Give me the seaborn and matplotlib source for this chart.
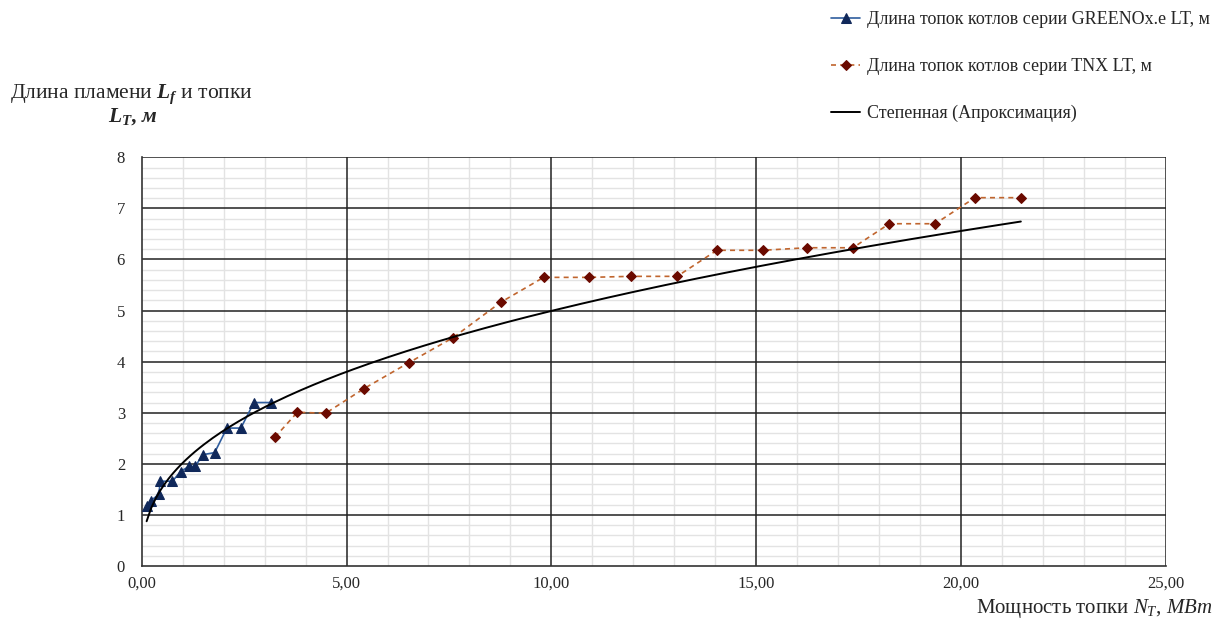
import matplotlib
matplotlib.use("Agg")
import matplotlib.pyplot as plt
import numpy as np
import pandas as pd
import seaborn as sns
from matplotlib.ticker import FuncFormatter, MultipleLocator

# boilers GREENOx.e LT: power (MW) and furnace length (m)
greenox_power = [0.12, 0.22, 0.42, 0.45, 0.75, 0.95, 1.15, 1.30, 1.50, 1.78, 2.08, 2.42, 2.74, 3.15]
greenox_length = [1.17, 1.28, 1.40, 1.66, 1.66, 1.85, 1.95, 1.95, 2.18, 2.22, 2.70, 2.70, 3.20, 3.20]

# boilers TNX LT
tnx_power = [3.25, 3.80, 4.49, 5.42, 6.52, 7.60, 8.76, 9.81, 10.93, 11.94, 13.07,
             14.04, 15.16, 16.24, 17.36, 18.25, 19.37, 20.34, 21.46]
tnx_length = [2.52, 3.01, 2.99, 3.47, 3.98, 4.47, 5.16, 5.65, 5.65, 5.67, 5.67,
              6.18, 6.18, 6.23, 6.23, 6.70, 6.70, 7.21, 7.21]

label_greenox = "Длина топок котлов серии GREENOx.e LT, м"
label_tnx = "Длина топок котлов серии TNX LT, м"
label_fit = "Степенная (Апроксимация)"

sns.set_style("white")
plt.rcParams["font.family"] = ["Liberation Serif", "DejaVu Serif"]
plt.rcParams["mathtext.fontset"] = "custom"
plt.rcParams["mathtext.rm"] = "Liberation Serif"
plt.rcParams["mathtext.it"] = "Liberation Serif:italic"
plt.rcParams["mathtext.bf"] = "Liberation Serif:bold"
plt.rcParams["mathtext.bfit"] = "Liberation Serif:italic:bold"

# power-law trendline fitted on both series (like the spreadsheet trendline)
all_x = np.array(greenox_power + tnx_power)
all_y = np.array(greenox_length + tnx_length)
b, log_a = np.polyfit(np.log(all_x), np.log(all_y), 1)
fit_x = np.linspace(all_x.min(), all_x.max(), 200)
fit_df = pd.DataFrame({"x": fit_x, "y": np.exp(log_a) * fit_x ** b})

fig = plt.figure(figsize=(12.28, 6.28), dpi=100)
ax = fig.add_axes([0.1154, 0.0987, 0.834, 0.6508])

sns.lineplot(x=greenox_power, y=greenox_length, ax=ax, color="#2f5d9e", lw=1.2,
             marker="^", markersize=6.5, markerfacecolor="#10285a", markeredgecolor="#10285a",
             estimator=None, sort=False, label=label_greenox, zorder=3)
sns.lineplot(x=tnx_power, y=tnx_length, ax=ax, color="#c0652e", lw=1.2,
             linestyle=(0, (3, 2.5)), marker="D", markersize=5,
             markerfacecolor="#6b0a00", markeredgecolor="#6b0a00",
             estimator=None, sort=False, label=label_tnx, zorder=3)
sns.lineplot(data=fit_df, x="x", y="y", ax=ax, color="black", lw=1.4,
             estimator=None, sort=False, label=label_fit, zorder=4)

ax.set_xlim(0, 25)
ax.set_ylim(0, 8)
ax.xaxis.set_major_locator(MultipleLocator(5))
ax.xaxis.set_minor_locator(MultipleLocator(1))
ax.yaxis.set_major_locator(MultipleLocator(1))
ax.yaxis.set_minor_locator(MultipleLocator(0.2))
ax.xaxis.set_major_formatter(FuncFormatter(lambda v, pos: f"{v:.2f}".replace(".", ",")))
ax.grid(which="minor", color="#e3e3e3", lw=1.0)
ax.grid(which="major", visible=False)
ax.set_axisbelow(True)
# major grid drawn above the minor one
for xv in np.arange(5, 25.1, 5):
    ax.axvline(xv, color="#222222", lw=1.1, zorder=1.5)
for yv in np.arange(1, 8.1, 1):
    ax.axhline(yv, color="#222222", lw=1.1, zorder=1.5)
for side in ["top", "right"]:
    ax.spines[side].set_visible(False)
for side in ["left", "bottom"]:
    ax.spines[side].set_color("#333333")
    ax.spines[side].set_linewidth(1.2)
ax.tick_params(axis="x", which="major", length=4, color="#333333", labelsize=12, pad=3)
ax.tick_params(axis="y", which="major", length=0, labelsize=12, pad=12)
ax.tick_params(which="minor", length=0)
ax.set_xlabel("")
ax.set_ylabel("")

handles, labels = ax.get_legend_handles_labels()
ax.get_legend().remove()
fig.legend(handles, labels, loc="upper left", bbox_to_anchor=(0.677, 0.982),
           frameon=False, fontsize=13, labelspacing=1.65, handlelength=1.6,
           handletextpad=0.4, borderpad=0, borderaxespad=0)

fig.text(0.1067, 0.844, r"Длина пламени $\mathbfit{L_f}$ и топки", ha="center",
         va="baseline", fontsize=15.5)
fig.text(0.108, 0.807, r"$\mathbfit{L_T}$, м", ha="center", va="baseline",
         fontsize=15.5, style="italic", weight="bold")
fig.text(0.987, 0.024, r"Мощность топки $\mathit{N_T}$, $\mathit{МВт}$", ha="right",
         va="baseline", fontsize=15)

fig.savefig("out.png", dpi=100)
